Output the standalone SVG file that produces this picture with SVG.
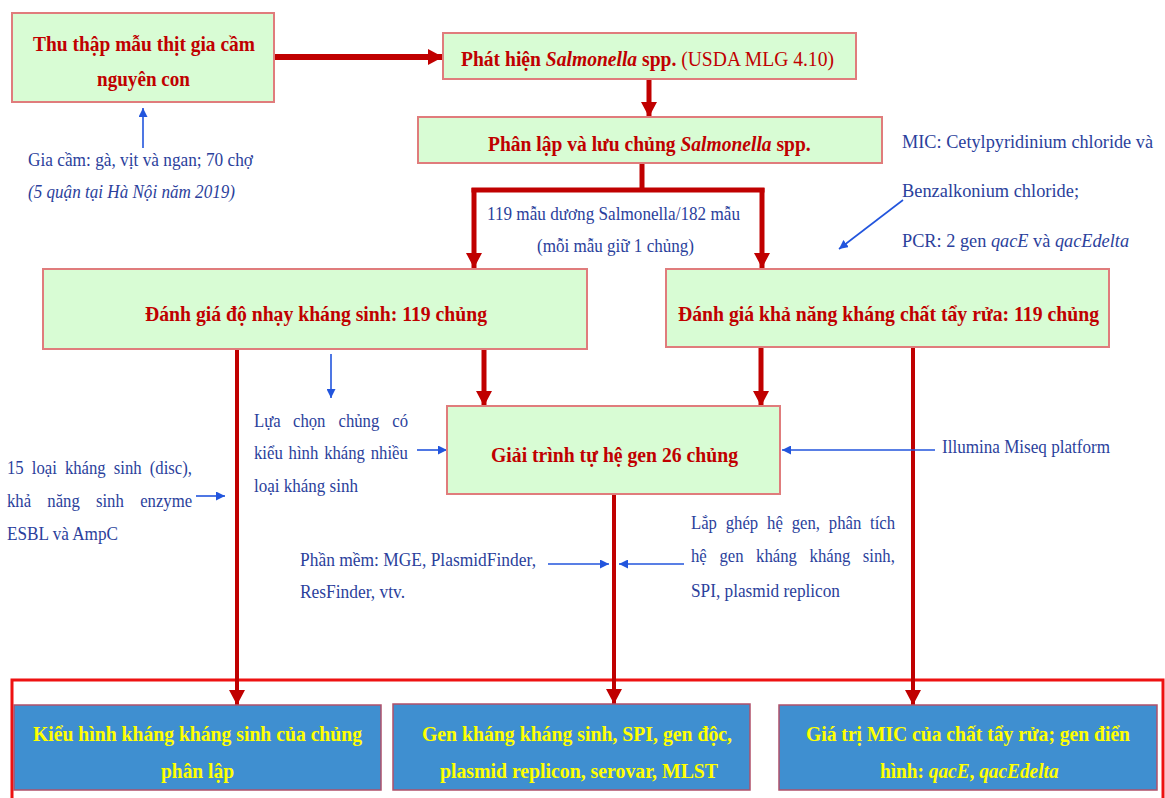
<svg xmlns="http://www.w3.org/2000/svg" width="1165" height="798" viewBox="0 0 1165 798">
<style>
.box{fill:#d8fcd4;stroke:#e07c7c;stroke-width:2}
.res{fill:#3f8fd0;stroke:#b0506a;stroke-width:1.5}
.t{font-family:"Liberation Serif","Times New Roman",serif;font-weight:bold;fill:#c00000;font-size:22px}
.b{font-family:"Liberation Serif","Times New Roman",serif;fill:#2b3f9c;font-size:19px}
.y{font-family:"Liberation Serif","Times New Roman",serif;font-weight:bold;fill:#ffff00;font-size:21px}
.i{font-style:italic}
.n{font-weight:normal}
.rl{stroke:#c00000;fill:none}
.bl{stroke:#2255dd;stroke-width:1.6;fill:none}
</style>
<defs>
<marker id="ra" markerUnits="userSpaceOnUse" markerWidth="16" markerHeight="16" refX="15" refY="8" orient="auto"><path d="M0,0 L15,8 L0,16 z" fill="#c00000"/></marker>
<marker id="ba" markerUnits="userSpaceOnUse" markerWidth="9" markerHeight="9" refX="9" refY="4.5" orient="auto"><path d="M0,0 L9,4.5 L0,9 z" fill="#2255dd"/></marker>
</defs>

<rect x="12" y="680" width="1151" height="140" fill="none" stroke="#ee1111" stroke-width="3"/>

<g id="connectors">
<line class="rl" x1="274" y1="57" x2="443" y2="57" stroke-width="6" marker-end="url(#ra)"/>
<line class="rl" x1="649" y1="79" x2="649" y2="117" stroke-width="5" marker-end="url(#ra)"/>
<path class="rl" d="M642,163 V190 M471.5,190 H764.5" stroke-width="5"/>
<line class="rl" x1="474" y1="188" x2="474" y2="268" stroke-width="5" marker-end="url(#ra)"/>
<line class="rl" x1="762" y1="188" x2="762" y2="268" stroke-width="5" marker-end="url(#ra)"/>
<line class="rl" x1="237" y1="349" x2="237" y2="705" stroke-width="4" marker-end="url(#ra)"/>
<line class="rl" x1="484" y1="349" x2="484" y2="406" stroke-width="5" marker-end="url(#ra)"/>
<line class="rl" x1="761" y1="347" x2="761" y2="406" stroke-width="5" marker-end="url(#ra)"/>
<line class="rl" x1="913" y1="347" x2="913" y2="705" stroke-width="4" marker-end="url(#ra)"/>
<line class="rl" x1="614" y1="494" x2="614" y2="704" stroke-width="4" marker-end="url(#ra)"/>
<line class="bl" x1="143" y1="148" x2="143" y2="108" marker-end="url(#ba)"/>
<line class="bl" x1="903" y1="200" x2="839" y2="249" marker-end="url(#ba)"/>
<line class="bl" x1="331" y1="354" x2="331" y2="398" marker-end="url(#ba)"/>
<line class="bl" x1="196" y1="496" x2="225" y2="496" marker-end="url(#ba)"/>
<line class="bl" x1="417" y1="450" x2="447" y2="450" marker-end="url(#ba)"/>
<line class="bl" x1="935" y1="450" x2="782" y2="450" marker-end="url(#ba)"/>
<line class="bl" x1="548" y1="564" x2="609" y2="564" marker-end="url(#ba)"/>
<line class="bl" x1="684" y1="564" x2="619" y2="564" marker-end="url(#ba)"/>
</g>

<g id="collect">
<rect class="box" x="12" y="13" width="262" height="89"/>
<text class="t" x="33" y="51" textLength="222" lengthAdjust="spacingAndGlyphs">Thu thập mẫu thịt gia cầm</text>
<text class="t" x="97" y="86" textLength="93" lengthAdjust="spacingAndGlyphs">nguyên con</text>
</g>

<g id="detect">
<rect class="box" x="443" y="33" width="413" height="46"/>
<text class="t" transform="translate(461,66) scale(0.89,1)">Phát hiện <tspan class="i">Salmonella</tspan> spp.<tspan class="n"> (USDA MLG 4.10)</tspan></text>
</g>

<g id="isolate">
<rect class="box" x="418" y="117" width="464" height="46"/>
<text class="t" transform="translate(488,151) scale(0.888,1)">Phân lập và lưu chủng <tspan class="i">Salmonella</tspan> spp.</text>
</g>

<g id="ast">
<rect class="box" x="43" y="269" width="544" height="80"/>
<text class="t" x="145" y="321" textLength="342" lengthAdjust="spacingAndGlyphs">Đánh giá độ nhạy kháng sinh: 119 chủng</text>
</g>

<g id="disinfectant">
<rect class="box" x="666" y="269" width="443" height="78"/>
<text class="t" x="678" y="321" textLength="421" lengthAdjust="spacingAndGlyphs">Đánh giá khả năng kháng chất tẩy rửa: 119 chủng</text>
</g>

<g id="wgs">
<rect class="box" x="447" y="406" width="333" height="88"/>
<text class="t" x="491" y="462" textLength="247" lengthAdjust="spacingAndGlyphs">Giải trình tự hệ gen 26 chủng</text>
</g>

<g id="note-sampling">
<text class="b" x="28" y="166" textLength="225" lengthAdjust="spacingAndGlyphs">Gia cầm: gà, vịt và ngan; 70 chợ</text>
<text class="b i" x="28" y="198" textLength="207" lengthAdjust="spacingAndGlyphs">(5 quận tại Hà Nội năm 2019)</text>
</g>

<g id="note-positive">
<text class="b" x="487" y="220" textLength="253" lengthAdjust="spacingAndGlyphs">119 mẫu dương Salmonella/182 mẫu</text>
<text class="b" x="537" y="252" textLength="157" lengthAdjust="spacingAndGlyphs">(mỗi mẫu giữ 1 chủng)</text>
</g>

<g id="note-mic">
<text class="b" x="902" y="148" textLength="251" lengthAdjust="spacingAndGlyphs">MIC: Cetylpyridinium chloride và</text>
<text class="b" x="902" y="197" textLength="177" lengthAdjust="spacingAndGlyphs">Benzalkonium chloride;</text>
<text class="b" transform="translate(902,247) scale(0.963,1)">PCR: 2 gen <tspan class="i">qacE</tspan> và <tspan class="i">qacEdelta</tspan></text>
</g>

<g id="note-disc">
<text class="b" transform="translate(7,474) scale(0.88,1)"><tspan x="0">15</tspan> <tspan x="28.2">loại</tspan> <tspan x="65.8">kháng</tspan> <tspan x="121.4">sinh</tspan> <tspan x="162.2">(disc),</tspan></text>
<text class="b" transform="translate(7,507) scale(0.88,1)"><tspan x="0">khả</tspan> <tspan x="45.8">năng</tspan> <tspan x="101.1">sinh</tspan> <tspan x="151.3">enzyme</tspan></text>
<text class="b" x="7" y="540" textLength="111" lengthAdjust="spacingAndGlyphs">ESBL và AmpC</text>
</g>

<g id="note-select">
<text class="b" transform="translate(254,427) scale(0.88,1)"><tspan x="0">Lựa</tspan> <tspan x="44.3">chọn</tspan> <tspan x="96">chủng</tspan> <tspan x="157.2">có</tspan></text>
<text class="b" transform="translate(254,459) scale(0.88,1)"><tspan x="0">kiểu</tspan> <tspan x="39.3">hình</tspan> <tspan x="79.7">kháng</tspan> <tspan x="132.6">nhiều</tspan></text>
<text class="b" x="254" y="492" textLength="104" lengthAdjust="spacingAndGlyphs">loại kháng sinh</text>
</g>

<g id="note-illumina">
<text class="b" x="942" y="453" textLength="168" lengthAdjust="spacingAndGlyphs">Illumina Miseq platform</text>
</g>

<g id="note-software">
<text class="b" x="300" y="566" textLength="236" lengthAdjust="spacingAndGlyphs">Phần mềm: MGE, PlasmidFinder,</text>
<text class="b" x="300" y="598" textLength="105" lengthAdjust="spacingAndGlyphs">ResFinder, vtv.</text>
</g>

<g id="note-assembly">
<text class="b" transform="translate(691,529) scale(0.88,1)"><tspan x="0">Lắp</tspan> <tspan x="39.5">ghép</tspan> <tspan x="86.5">hệ</tspan> <tspan x="114.4">gen,</tspan> <tspan x="156.6">phân</tspan> <tspan x="203.5">tích</tspan></text>
<text class="b" transform="translate(691,562) scale(0.88,1)"><tspan x="0">hệ</tspan> <tspan x="32.3">gen</tspan> <tspan x="74">kháng</tspan> <tspan x="134.7">kháng</tspan> <tspan x="195.3">sinh,</tspan></text>
<text class="b" x="691" y="597" textLength="149" lengthAdjust="spacingAndGlyphs">SPI, plasmid replicon</text>
</g>

<g id="result-phenotype">
<rect class="res" x="14" y="705" width="367" height="85"/>
<text class="y" x="33" y="741" textLength="329" lengthAdjust="spacingAndGlyphs">Kiểu hình kháng kháng sinh của chủng</text>
<text class="y" x="161" y="778" textLength="73" lengthAdjust="spacingAndGlyphs">phân lập</text>
</g>

<g id="result-genes">
<rect class="res" x="393" y="704" width="357" height="86"/>
<text class="y" x="422" y="741" textLength="310" lengthAdjust="spacingAndGlyphs">Gen kháng kháng sinh, SPI, gen độc,</text>
<text class="y" x="440" y="778" textLength="278" lengthAdjust="spacingAndGlyphs">plasmid replicon, serovar, MLST</text>
</g>

<g id="result-mic">
<rect class="res" x="779" y="705" width="378" height="85"/>
<text class="y" x="806" y="741" textLength="324" lengthAdjust="spacingAndGlyphs">Giá trị MIC của chất tẩy rửa; gen điển</text>
<text class="y" transform="translate(880,778) scale(0.92,1)">hình: <tspan class="i">qacE</tspan>, <tspan class="i">qacEdelta</tspan></text>
</g>
</svg>
